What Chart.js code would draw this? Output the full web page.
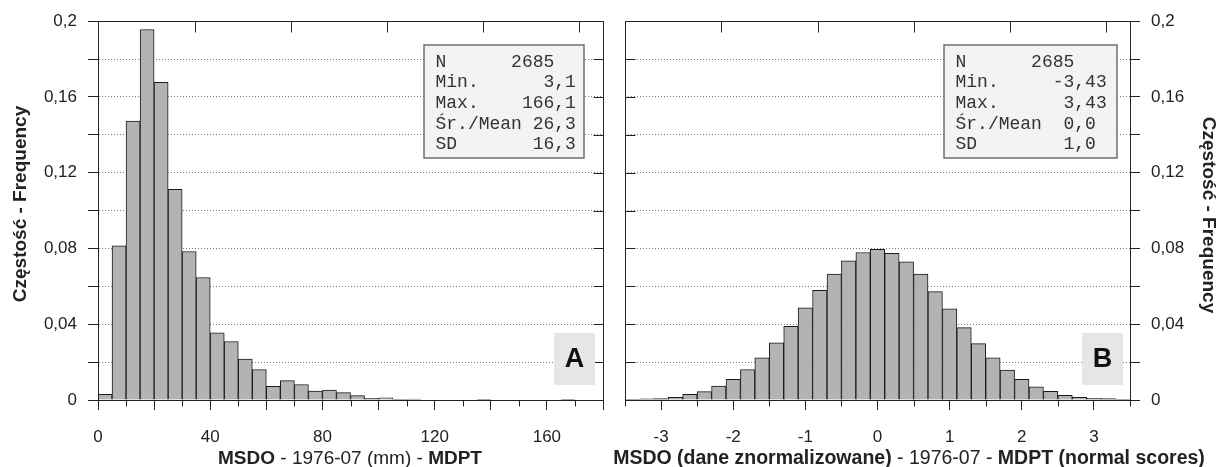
<!DOCTYPE html>
<html>
<head>
<meta charset="utf-8">
<script src="https://cdn.jsdelivr.net/npm/chart.js"></script>
<style>
  body { margin: 0; background: #fff; }
  canvas { position: absolute; left: 0; top: 0; }
</style>
</head>
<body>
<canvas id="chartA" width="1216" height="467"></canvas>
<canvas id="chartB" width="1216" height="467"></canvas>
<script>
// ---- data ----
// A: raw values (mm), bins 5 mm wide, centres
const binsA = [2.5, 7.5, 12.5, 17.5, 22.5, 27.5, 32.5, 37.5, 42.5, 47.5, 52.5, 57.5,
    62.5, 67.5, 72.5, 77.5, 82.5, 87.5, 92.5, 97.5, 102.5, 107.5, 112.5, 117.5,
    122.5, 127.5, 132.5, 137.5, 142.5, 147.5, 152.5, 157.5, 162.5, 167.5, 172.5, 177.5];
const freqA = [0.003, 0.0814, 0.1472, 0.1956, 0.1677, 0.1112, 0.0784, 0.0647, 0.0354, 0.0309, 0.0216, 0.0161,
    0.0072, 0.0102, 0.0082, 0.0047, 0.0053, 0.0039, 0.0023, 0.0009, 0.0012, 0.0004, 0.0005, 0,
    0, 0, 0, 0.0003, 0, 0, 0, 0, 0, 0.0003, 0, 0];

// B: normal scores, bins 0.2 wide, centres
const binsB = [-3.4, -3.2, -3.0, -2.8, -2.6, -2.4, -2.2, -2.0, -1.8, -1.6, -1.4, -1.2,
    -1.0, -0.8, -0.6, -0.4, -0.2, 0.0, 0.2, 0.4, 0.6, 0.8, 1.0, 1.2,
    1.4, 1.6, 1.8, 2.0, 2.2, 2.4, 2.6, 2.8, 3.0, 3.2, 3.4];
const freqB = [0.0004, 0.0006, 0.0007, 0.0014, 0.003, 0.0044, 0.0074, 0.0109, 0.0161, 0.0223, 0.0302, 0.0389,
    0.0486, 0.0579, 0.0665, 0.0735, 0.0779, 0.0795, 0.0775, 0.073, 0.0665, 0.0572, 0.0482, 0.0382,
    0.0298, 0.0223, 0.0158, 0.0109, 0.007, 0.0046, 0.0025, 0.0014, 0.0009, 0.0007, 0.0004];

// axis ticks along the top edge (in x data units)
const topTicksA = [34.5, 68.7, 102.9, 137.1, 171.3];
const topTicksB = [-2.17, -0.83, 0.5, 1.84, 3.17];

// statistics boxes
const statLabels  = ["N", "Min.", "Max.", "Śr./Mean", "SD"];
const statValuesA = ["2685", "3,1", "166,1", "26,3", "16,3"];
const statValuesB = ["2685", "-3,43", "3,43", "0,0", "1,0"];
const statColsA = [11, 13, 13, 13, 13];
const statColsB = [11, 14, 14, 13, 13];

const yTitle = "Częstość - Frequency";
const xTitleA = [["MSDO", true], [" - 1976-07 (mm) - ", false], ["MDPT", true]];
const xTitleB = [["MSDO (dane znormalizowane)", true], [" - 1976-07 - ", false], ["MDPT (normal scores)", true]];

const SANS = "'Liberation Sans', Arial, sans-serif";
const MONO = "'Liberation Mono', 'Courier New', monospace";
const INK = "#222";

function fmtY(v) {
    const h = Math.round(v * 100);
    if (h % 4 !== 0) return "";
    if (h === 0) return "0";
    return String(h / 100).replace(".", ",");
}

// frame, inner ticks, stats box, panel letter and titles
const decorPlugin = {
    id: "decor",
    afterDraw(chart, args, o) {
        const {ctx, chartArea: a, scales} = chart;
        const xs = scales.x, ys = scales.y;
        const L = Math.round(a.left) + 0.5, R = Math.round(a.right) + 0.5;
        const T = Math.round(a.top) + 0.5, B = Math.round(a.bottom) + 0.5;
        ctx.save();
        ctx.strokeStyle = INK;
        ctx.lineWidth = 1;
        ctx.beginPath();
        ctx.moveTo(L, T); ctx.lineTo(R, T); ctx.lineTo(R, B); ctx.lineTo(L, B); ctx.closePath();
        ys.ticks.forEach(t => {
            const py = Math.round(ys.getPixelForValue(t.value)) + 0.5;
            if (o.innerSide === "right") { ctx.moveTo(R, py); ctx.lineTo(R - 10, py); }
            else { ctx.moveTo(L, py); ctx.lineTo(L + 10, py); }
        });
        o.topTicks.forEach(v => {
            const px = Math.round(xs.getPixelForValue(v)) + 0.5;
            ctx.moveTo(px, T); ctx.lineTo(px, T + 11);
        });
        xs.ticks.forEach(t => {
            if (o.isMajor(t.value)) return;
            const px = Math.round(xs.getPixelForValue(t.value)) + 0.5;
            ctx.moveTo(px, B); ctx.lineTo(px, B + 6);
        });
        ctx.stroke();

        // stats box
        const [bx, by, bw, bh] = o.statBox;
        ctx.fillStyle = "#f3f3f3";
        ctx.fillRect(bx, by, bw, bh);
        ctx.strokeStyle = "#707070";
        ctx.lineWidth = 1.5;
        ctx.strokeRect(bx, by, bw, bh);
        ctx.font = "18px " + MONO;
        ctx.fillStyle = "#333";
        ctx.textBaseline = "alphabetic";
        const cw = ctx.measureText("0").width;
        const tx = bx + 11.5;
        statLabels.forEach((lab, i) => {
            const base = by + 21.5 + i * 20.7;
            ctx.textAlign = "left";
            ctx.fillText(lab, tx, base);
            ctx.textAlign = "right";
            ctx.fillText(o.statValues[i], tx + o.statCols[i] * cw, base);
        });

        // panel letter
        const [lx, ly, lw, lh] = o.letterBox;
        ctx.fillStyle = "#e6e6e6";
        ctx.fillRect(lx, ly, lw, lh);
        ctx.fillStyle = "#111";
        ctx.font = "bold 27px " + SANS;
        ctx.textAlign = "center";
        ctx.textBaseline = "middle";
        ctx.fillText(o.letter, lx + lw / 2, ly + lh / 2 + 1);

        // x title with mixed weights
        ctx.textAlign = "left";
        ctx.fillStyle = INK;
        const fs = o.titleSize + "px " + SANS;
        let total = 0;
        o.xTitle.forEach(p => { ctx.font = (p[1] ? "bold " : "") + fs; total += ctx.measureText(p[0]).width; });
        let cx = o.xTitleX - total / 2;
        o.xTitle.forEach(p => {
            ctx.font = (p[1] ? "bold " : "") + fs;
            ctx.fillText(p[0], cx, o.xTitleY);
            cx += ctx.measureText(p[0]).width;
        });

        // y title
        ctx.save();
        ctx.translate(o.yTitleX, o.yTitleY);
        ctx.rotate(o.yTitleRot);
        ctx.font = "bold 19px " + SANS;
        ctx.textAlign = "center";
        ctx.fillText(yTitle, 0, 0);
        ctx.restore();
        ctx.restore();
    }
};

function makeChart(id, bins, freq, cfg) {
    return new Chart(document.getElementById(id), {
        type: "bar",
        data: {
            datasets: [{
                data: bins.map((c, i) => ({x: c, y: freq[i]})),
                backgroundColor: "#b3b3b3",
                borderColor: "#1a1a1a",
                borderWidth: 1,
                barPercentage: 1,
                categoryPercentage: 1
            }]
        },
        options: {
            responsive: false,
            animation: false,
            devicePixelRatio: 1,
            layout: {padding: cfg.padding},
            plugins: {
                legend: {display: false},
                tooltip: {enabled: false},
                decor: cfg.decor
            },
            scales: {
                x: {
                    type: "linear", min: cfg.xMin, max: cfg.xMax, offset: false,
                    afterFit: s => { s.height = 67; },
                    grid: {
                        offset: false, drawOnChartArea: false, tickLength: 10,
                        tickColor: c => cfg.decor.isMajor(c.tick.value) ? INK : "rgba(0,0,0,0)"
                    },
                    border: {color: INK},
                    ticks: {
                        stepSize: cfg.xStep, autoSkip: false, maxRotation: 0, padding: 17,
                        color: INK, font: {family: SANS, size: 17},
                        callback: cfg.xLabel
                    }
                },
                y: {
                    position: cfg.yPos, min: 0, max: 0.2,
                    afterFit: s => { s.width = cfg.yWidth; },
                    grid: {color: "#7a7a7a", tickColor: INK, tickLength: 10, tickBorderDash: []},
                    border: {color: INK, dash: [1, 2]},
                    ticks: {
                        stepSize: 0.02, autoSkip: false, padding: 11,
                        color: INK, font: {family: SANS, size: 17},
                        callback: fmtY
                    }
                }
            }
        },
        plugins: [decorPlugin]
    });
}

makeChart("chartA", binsA, freqA, {
    padding: {left: 0, right: 613, top: 20, bottom: 0},
    xMin: 0, xMax: 180, xStep: 10, yPos: "left", yWidth: 98,
    xLabel: v => (v % 40 === 0 ? String(v) : ""),
    decor: {
        innerSide: "right", topTicks: topTicksA,
        isMajor: v => Math.round(v) % 20 === 0,
        statBox: [424, 45, 160, 113], statValues: statValuesA, statCols: statColsA,
        letterBox: [554, 333, 41, 52], letter: "A",
        xTitle: xTitleA, xTitleX: 350, xTitleY: 459, titleSize: 19,
        yTitleX: 21, yTitleY: 204, yTitleRot: -Math.PI / 2
    }
});

makeChart("chartB", binsB, freqB, {
    padding: {left: 625, right: 0, top: 20, bottom: 0},
    xMin: -3.5, xMax: 3.5, xStep: 0.5, yPos: "right", yWidth: 86,
    xLabel: v => (Number.isInteger(v) && Math.abs(v) <= 3 ? String(v) : ""),
    decor: {
        innerSide: "left", topTicks: topTicksB,
        isMajor: v => Number.isInteger(v),
        statBox: [944, 45, 173, 113], statValues: statValuesB, statCols: statColsB,
        letterBox: [1082, 333, 41, 52], letter: "B",
        xTitle: xTitleB, xTitleX: 909, xTitleY: 459, titleSize: 19.5,
        yTitleX: 1208, yTitleY: 215, yTitleRot: Math.PI / 2
    }
});
</script>
</body>
</html>
